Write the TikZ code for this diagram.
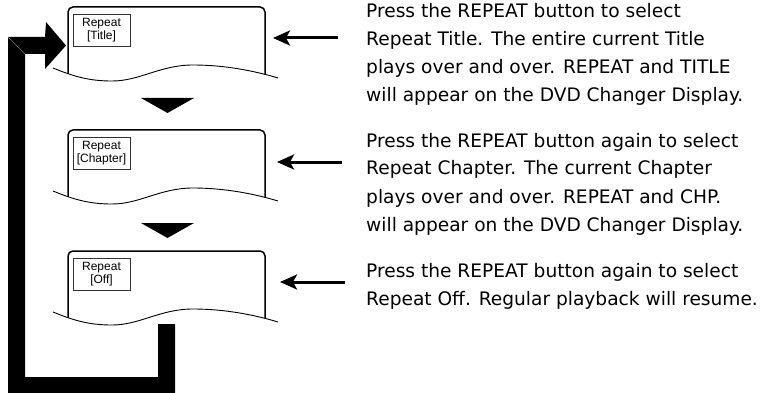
\documentclass[tikz,border=0pt]{standalone}
\usepackage{fontspec}
\setmainfont{DejaVu Sans}
\newfontfamily\labelfont{Liberation Sans}
\usetikzlibrary{arrows.meta}
\tikzset{
  boxline/.style={line width=1.5pt, rounded corners=5pt},
  waveline/.style={line width=0.9pt},
  labelbox/.style={draw=black!80, line width=0.8pt, minimum width=57pt, minimum height=32pt,
    inner sep=0pt, align=center, font=\labelfont\fontsize{12}{13}\selectfont},
  textblock/.style={anchor=base west, inner sep=0pt, font=\fontsize{18.6}{28}\selectfont},
  smallarrow/.style={line width=3pt, -{Stealth[length=17pt,width=15pt,inset=4pt]}},
  downtri/.style={fill=black}
}
\newcommand\myscreen[3]{%
  \begin{scope}
    \clip (40,#1-10) -- (53,#1+61) .. controls (75,#1+70) and (90,#1+74) .. (112,#1+74)
      .. controls (140,#1+74) and (160,#1+58) .. (193,#1+58)
      .. controls (225,#1+58) and (255,#1+64) .. (278,#1+71) -- (290,#1-10) -- cycle;
    \draw[boxline] (68,#1+80) -- (68,#1) -- (265,#1) -- (265,#1+80);
  \end{scope}
  \draw[waveline] (53,#1+61) .. controls (75,#1+70) and (90,#1+74) .. (112,#1+74)
      .. controls (140,#1+74) and (160,#1+58) .. (193,#1+58)
      .. controls (225,#1+58) and (255,#1+64) .. (278,#1+71);
  \node[labelbox] (#2) at (101.5,#1+23) {Repeat\\{#3}};
}
\begin{document}
\begin{tikzpicture}[x=1pt,y=-1pt]
\useasboundingbox (0,0) rectangle (760,393);
% screens
\myscreen{7}{lab1}{[Title]}
\myscreen{130}{lab2}{[Chapter]}
\myscreen{251}{lab3}{[Off]}
% down triangles
\fill[downtri] (141,98) -- (194,98) -- (167.5,113) -- cycle;
\fill[downtri] (141,223) -- (194,223) -- (167.5,238) -- cycle;
% loop arrow
\fill (8,37) -- (45,37) -- (46,22) -- (66,45.5) -- (45,69) -- (45,54) -- (25,54) -- (25,377)
  -- (158,377) -- (158,324) -- (175,324) -- (175,393) -- (8,393) -- cycle;
\draw[black!55, line width=0.7pt] (8,37) -- (25,54);
% small arrows
\coordinate (a1s) at (338,38); \coordinate (a1e) at (273,38);
\coordinate (a2s) at (342,162); \coordinate (a2e) at (277,162);
\coordinate (a3s) at (345,282); \coordinate (a3e) at (280,282);
\draw[smallarrow] (a1s) -- (a1e);
\draw[smallarrow] (a2s) -- (a2e);
\draw[smallarrow] (a3s) -- (a3e);
% texts
\node[textblock] (t1) at (366,18) {\vtop{\hbox{Press the REPEAT button to select}\hbox{Repeat Title. The entire current Title}\hbox{plays over and over. REPEAT and TITLE}\hbox{will appear on the DVD Changer Display.}}};
\node[textblock] (t2) at (366,147) {\vtop{\hbox{Press the REPEAT button again to select}\hbox{Repeat Chapter. The current Chapter}\hbox{plays over and over. REPEAT and CHP.}\hbox{will appear on the DVD Changer Display.}}};
\node[textblock] (t3) at (366,277) {\vtop{\hbox{Press the REPEAT button again to select}\hbox{Repeat Off. Regular playback will resume.}}};
\end{tikzpicture}
\end{document}
